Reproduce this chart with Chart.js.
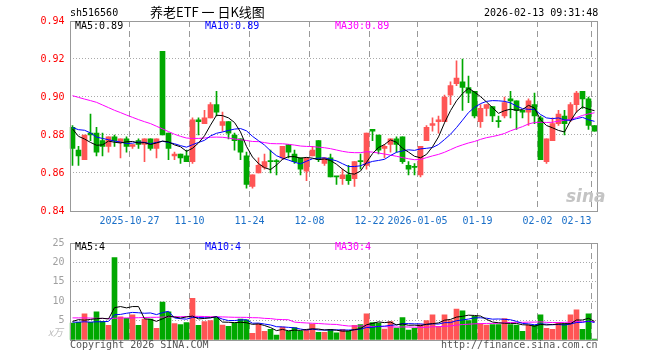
<!DOCTYPE html>
<html><head><meta charset="utf-8">
<script src="https://cdn.jsdelivr.net/npm/chart.js@4.4.1/dist/chart.umd.min.js"></script>
<style>
html,body{margin:0;padding:0;background:#fff;}
#wrap{position:relative;width:660px;height:360px;overflow:hidden;font-family:"DejaVu Sans Mono",monospace;font-size:10px;}
canvas{position:absolute;left:0;}
.t{position:absolute;white-space:pre;line-height:12px;}
</style></head><body>
<div id="wrap">
<canvas id="kc" width="660" height="231" style="top:0"></canvas>
<canvas id="vc" width="660" height="128" style="top:232px"></canvas>
<div class="t" style="left:70px;top:7px;color:#000">sh516560</div>
<div class="t" style="left:150px;top:4px;font-family:'Noto Sans CJK SC';font-size:13px;line-height:16px;color:#000">养老ETF 一 日K线图</div>
<div class="t" style="left:484px;top:7px;color:#000">2026-02-13 09:31:48</div>
<div class="t" id="m5" style="left:75px;top:20px;color:#000"></div>
<div class="t" id="m10" style="left:205px;top:20px;color:#0000ff"></div>
<div class="t" id="m30" style="left:335px;top:20px;color:#ff00ff"></div>
<div class="t" id="v5" style="left:75px;top:241px;color:#000"></div>
<div class="t" id="v10" style="left:205px;top:241px;color:#0000ff"></div>
<div class="t" id="v30" style="left:335px;top:241px;color:#ff00ff"></div>
<div class="t" style="left:48px;top:326px;color:#bbb;font-family:'Noto Sans CJK SC';font-style:italic;">x万</div>
<div class="t" style="left:70px;top:339px;color:#555">Copyright 2026 SINA.COM</div>
<div class="t" style="left:441px;top:339px;color:#555">http://finance.sina.com.cn</div>
<div class="t" style="left:566px;top:186px;color:#c4c4c4;font-family:'DejaVu Sans';font-style:italic;font-weight:bold;font-size:17px;line-height:20px">sina</div>
</div>
<script>
const dates = [
'2025-10-13','2025-10-14','2025-10-15','2025-10-16','2025-10-17','2025-10-20','2025-10-21','2025-10-22','2025-10-23','2025-10-24',
'2025-10-27','2025-10-28','2025-10-29','2025-10-30','2025-10-31','2025-11-03','2025-11-04','2025-11-05','2025-11-06','2025-11-07',
'2025-11-10','2025-11-11','2025-11-12','2025-11-13','2025-11-14','2025-11-17','2025-11-18','2025-11-19','2025-11-20','2025-11-21',
'2025-11-24','2025-11-25','2025-11-26','2025-11-27','2025-11-28','2025-12-01','2025-12-02','2025-12-03','2025-12-04','2025-12-05',
'2025-12-08','2025-12-09','2025-12-10','2025-12-11','2025-12-12','2025-12-15','2025-12-16','2025-12-17','2025-12-18','2025-12-19',
'2025-12-22','2025-12-23','2025-12-24','2025-12-25','2025-12-26','2025-12-29','2025-12-30','2025-12-31','2026-01-05','2026-01-06',
'2026-01-07','2026-01-08','2026-01-09','2026-01-12','2026-01-13','2026-01-14','2026-01-15','2026-01-16','2026-01-19','2026-01-20',
'2026-01-21','2026-01-22','2026-01-23','2026-01-26','2026-01-27','2026-01-28','2026-01-29','2026-01-30','2026-02-02','2026-02-03',
'2026-02-04','2026-02-05','2026-02-06','2026-02-09','2026-02-10','2026-02-11','2026-02-12','2026-02-13'];

const open = [0.884,0.872,0.867,0.881,0.881,0.877,0.874,0.879,0.876,0.878,
0.874,0.877,0.875,0.878,0.873,0.924,0.881,0.869,0.870,0.869,
0.866,0.888,0.886,0.889,0.896,0.885,0.887,0.880,0.878,0.869,
0.853,0.860,0.863,0.866,0.866,0.868,0.875,0.870,0.868,0.861,
0.869,0.877,0.865,0.868,0.858,0.857,0.859,0.857,0.866,0.864,
0.883,0.880,0.873,0.875,0.878,0.879,0.864,0.863,0.859,0.877,
0.885,0.887,0.887,0.901,0.907,0.908,0.905,0.903,0.887,0.894,
0.895,0.887,0.890,0.899,0.898,0.893,0.892,0.896,0.889,0.866,
0.877,0.886,0.890,0.888,0.896,0.903,0.899,0.885];

const high = [0.885,0.874,0.880,0.891,0.884,0.881,0.879,0.880,0.878,0.879,
0.875,0.878,0.878,0.878,0.878,0.924,0.881,0.871,0.870,0.872,
0.889,0.889,0.893,0.897,0.903,0.892,0.887,0.881,0.878,0.871,
0.859,0.868,0.870,0.872,0.867,0.874,0.875,0.872,0.868,0.868,
0.874,0.877,0.868,0.870,0.858,0.862,0.864,0.866,0.870,0.881,
0.883,0.880,0.875,0.878,0.879,0.879,0.866,0.865,0.874,0.885,
0.889,0.890,0.901,0.908,0.919,0.920,0.911,0.903,0.896,0.896,
0.895,0.890,0.900,0.903,0.898,0.893,0.899,0.902,0.890,0.878,
0.889,0.893,0.893,0.897,0.903,0.903,0.900,0.885];

const low = [0.864,0.864,0.867,0.877,0.869,0.869,0.871,0.874,0.868,0.871,
0.873,0.873,0.866,0.872,0.868,0.880,0.867,0.867,0.865,0.866,
0.865,0.880,0.886,0.889,0.890,0.882,0.878,0.872,0.867,0.852,
0.852,0.860,0.862,0.860,0.859,0.867,0.868,0.865,0.859,0.856,
0.869,0.866,0.864,0.858,0.854,0.854,0.854,0.853,0.862,0.862,
0.877,0.870,0.868,0.871,0.871,0.865,0.859,0.859,0.858,0.877,
0.882,0.881,0.887,0.896,0.906,0.893,0.897,0.889,0.884,0.890,
0.887,0.884,0.889,0.889,0.883,0.889,0.885,0.886,0.867,0.865,
0.877,0.885,0.880,0.887,0.892,0.894,0.883,0.882];

const close = [0.873,0.869,0.880,0.880,0.871,0.874,0.879,0.877,0.878,0.874,
0.875,0.875,0.878,0.873,0.878,0.880,0.873,0.870,0.868,0.866,
0.888,0.887,0.889,0.896,0.892,0.887,0.881,0.877,0.871,0.854,
0.859,0.864,0.866,0.866,0.866,0.874,0.871,0.866,0.862,0.868,
0.872,0.867,0.868,0.858,0.858,0.859,0.856,0.866,0.866,0.881,
0.882,0.872,0.874,0.878,0.875,0.866,0.862,0.863,0.874,0.884,
0.886,0.888,0.900,0.906,0.910,0.905,0.902,0.890,0.894,0.896,
0.890,0.887,0.897,0.898,0.893,0.892,0.898,0.890,0.867,0.878,
0.886,0.891,0.886,0.896,0.902,0.899,0.885,0.882];

const ma5 = [0.8832,0.8793,0.8779,0.8761,0.8746,0.8748,0.8768,0.8762,0.8758,0.8764,
0.8766,0.8758,0.8760,0.8750,0.8758,0.8768,0.8764,0.8748,0.8738,0.8714,
0.8730,0.8758,0.8796,0.8852,0.8904,0.8902,0.8890,0.8866,0.8816,0.8740,
0.8684,0.8650,0.8628,0.8618,0.8642,0.8672,0.8686,0.8686,0.8678,0.8682,
0.8678,0.8670,0.8674,0.8666,0.8646,0.8620,0.8598,0.8594,0.8610,0.8656,
0.8702,0.8734,0.8750,0.8774,0.8762,0.8730,0.8710,0.8688,0.8680,0.8698,
0.8738,0.8790,0.8864,0.8928,0.8980,0.9018,0.9046,0.9026,0.9002,0.8974,
0.8944,0.8914,0.8928,0.8936,0.8930,0.8934,0.8956,0.8942,0.8880,0.8850,
0.8838,0.8824,0.8816,0.8874,0.8922,0.8948,0.8936,0.8928];

const ma10 = [0.8839,0.8828,0.8825,0.8811,0.8789,0.8782,0.8775,0.8768,0.8763,0.8755,
0.8757,0.8763,0.8761,0.8754,0.8761,0.8767,0.8761,0.8754,0.8744,0.8736,
0.8749,0.8761,0.8772,0.8795,0.8809,0.8816,0.8824,0.8831,0.8834,0.8822,
0.8793,0.8770,0.8747,0.8717,0.8691,0.8678,0.8668,0.8657,0.8648,0.8662,
0.8675,0.8678,0.8680,0.8672,0.8664,0.8649,0.8634,0.8634,0.8638,0.8651,
0.8661,0.8666,0.8672,0.8692,0.8709,0.8716,0.8722,0.8719,0.8727,0.8730,
0.8734,0.8750,0.8776,0.8804,0.8839,0.8878,0.8918,0.8945,0.8965,0.8977,
0.8981,0.8980,0.8977,0.8969,0.8952,0.8939,0.8935,0.8935,0.8908,0.8890,
0.8886,0.8890,0.8879,0.8877,0.8886,0.8893,0.8880,0.8872];

const ma30 = [0.9007,0.8998,0.8989,0.8981,0.8972,0.8958,0.8944,0.8930,0.8918,0.8905,
0.8893,0.8881,0.8870,0.8860,0.8846,0.8832,0.8818,0.8804,0.8793,0.8784,
0.8782,0.8782,0.8784,0.8788,0.8789,0.8788,0.8784,0.8779,0.8775,0.8771,
0.8766,0.8765,0.8760,0.8755,0.8754,0.8754,0.8751,0.8747,0.8742,0.8740,
0.8739,0.8736,0.8733,0.8728,0.8721,0.8714,0.8709,0.8707,0.8707,0.8712,
0.8710,0.8705,0.8700,0.8694,0.8688,0.8681,0.8675,0.8670,0.8671,0.8681,
0.8690,0.8698,0.8709,0.8723,0.8737,0.8748,0.8758,0.8766,0.8777,0.8786,
0.8792,0.8799,0.8808,0.8822,0.8833,0.8844,0.8858,0.8866,0.8867,0.8866,
0.8867,0.8873,0.8877,0.8883,0.8892,0.8903,0.8911,0.8917];

const volume = [4.33,4.58,6.75,4.58,7.25,4.83,3.75,21.25,6.0,5.58,
6.5,3.75,5.4,5.4,3.0,9.75,7.25,4.25,4.0,4.5,
10.75,3.75,4.75,5.0,5.75,3.83,3.5,4.33,5.4,5.17,
1.75,4.08,2.25,2.75,1.25,3.33,2.25,3.17,2.33,2.5,
4.08,2.0,2.0,2.75,1.83,2.75,2.33,3.75,4.0,6.75,
4.5,4.33,2.83,4.75,3.08,5.75,2.58,3.0,4.0,5.0,
6.5,3.5,6.5,5.0,8.0,7.5,5.0,6.08,4.25,3.83,
4.0,4.0,5.5,4.0,3.83,2.25,3.83,3.75,6.5,3.0,
2.75,4.5,4.25,6.5,7.75,2.75,6.75,0.25];

const vma5 = [4.8,5.25,5.1,5.3,5.50,5.60,5.43,8.33,8.62,8.28,
8.62,8.62,5.45,5.33,4.81,5.46,6.16,5.93,5.65,5.95,
6.15,5.45,5.55,5.75,6.0,4.62,4.57,4.48,4.56,4.45,
4.03,4.15,3.73,3.2,2.42,2.73,2.37,2.55,2.47,2.72,
2.87,2.82,2.58,2.67,2.53,2.27,2.33,2.68,2.93,3.92,
4.27,4.67,4.48,4.63,3.9,4.15,3.8,3.83,3.68,4.07,
4.22,4.4,5.1,5.3,5.9,6.1,6.4,6.32,6.17,5.33,
4.63,4.43,4.32,4.27,4.27,3.92,3.88,3.53,4.03,3.87,
3.97,4.1,4.2,4.2,5.15,5.15,5.6,4.8];

const vma10 = [4.6,4.6,4.7,4.6,4.7,4.7,4.8,6.5,6.6,6.89,
7.11,7.02,6.89,6.97,6.55,7.04,7.39,5.69,5.49,5.38,
5.81,5.81,5.74,5.70,5.98,5.38,5.01,5.02,5.16,5.22,
4.32,4.36,4.11,3.88,3.43,3.38,3.26,3.14,2.83,2.57,
2.80,2.59,2.57,2.57,2.62,2.57,2.57,2.63,2.80,3.22,
3.27,3.50,3.58,3.78,3.91,4.21,4.23,4.16,4.16,3.98,
4.18,4.10,4.47,4.49,4.98,5.16,5.40,5.71,5.73,5.62,
5.37,5.42,5.32,5.22,4.80,4.27,4.16,3.92,4.15,4.07,
3.94,3.99,3.87,4.12,4.51,4.56,4.85,4.50];

const vma30 = [5.7,5.7,5.7,5.65,5.6,5.55,5.5,5.6,5.65,5.7,
5.7,5.75,5.8,5.85,5.85,5.9,5.95,6.0,6.0,6.05,
6.1,6.1,6.05,6.0,6.0,5.95,5.9,5.85,5.85,5.83,
5.75,5.73,5.58,5.52,5.32,5.27,5.22,4.61,4.49,4.39,
4.31,4.25,4.14,4.05,4.01,3.78,3.61,3.60,3.60,3.67,
3.46,3.48,3.42,3.41,3.32,3.38,3.35,3.31,3.26,3.26,
3.42,3.40,3.54,3.61,3.84,3.98,4.07,4.17,4.23,4.27,
4.27,4.34,4.45,4.50,4.56,4.55,4.60,4.60,4.68,4.55,
4.50,4.50,4.55,4.61,4.76,4.66,4.80,4.71];

const tickIdx = [10,20,30,40,50,58,68,78,87];
const tickText = ['2025-10-27','11-10','11-24','12-08','12-22','2026-01-05','01-19','02-02','02-13     '];
const priceTicks = [0.84,0.86,0.88,0.90,0.92,0.94];
const volTicks = [0,5,10,15,20,25];

const RED = '#ff5555', GREEN = '#00a800';
const colors = close.map((c,i) => c > open[i] ? RED : GREEN);
const L = dates.length - 1;

document.getElementById('m5').textContent = 'MA5:' + ma5[L].toFixed(2);
document.getElementById('m10').textContent = 'MA10:' + ma10[L].toFixed(2);
document.getElementById('m30').textContent = 'MA30:' + ma30[L].toFixed(2);
document.getElementById('v5').textContent = 'MA5:' + Math.floor(vma5[L]);
document.getElementById('v10').textContent = 'MA10:' + Math.floor(vma10[L]);
document.getElementById('v30').textContent = 'MA30:' + Math.floor(vma30[L]);

const frame = {
  id: 'frame',
  afterDraw(c) {
    const a = c.chartArea, x = c.ctx;
    x.save();
    x.strokeStyle = '#999'; x.lineWidth = 1;
    const l = Math.ceil(a.left) + 0.5, r = Math.floor(a.right) + 0.5;
    const t = Math.floor(a.top) + 0.5, b = Math.floor(a.bottom) + 0.5;
    x.strokeRect(l, t, r - l, b - t);
    x.restore();
  }
};

const mono = {family: 'DejaVu Sans Mono', size: 10};
const xGridColor = ctx => tickIdx.includes(ctx.index) ? '#999999' : 'rgba(0,0,0,0)';

function lineDs(label, data, color) {
  return {type: 'line', label, data, borderColor: color, borderWidth: 1, pointRadius: 0, tension: 0, order: 0};
}

function xScale(showLabels) {
  return {
    offset: true,
    grid: {offset: true, drawTicks: false, color: xGridColor, lineWidth: 1},
    border: {display: false, dash: [6, 4]},
    ticks: {
      display: showLabels, autoSkip: false, maxRotation: 0, minRotation: 0, padding: 4,
      labelOffset: -3, color: '#1a6fc8', font: mono,
      callback: (v, i) => { const k = tickIdx.indexOf(i); return k >= 0 ? tickText[k] : ''; }
    },
    afterFit: a => { a.height = 20; }
  };
}

new Chart(document.getElementById('kc'), {
  type: 'bar',
  data: {
    labels: dates,
    datasets: [
      lineDs('MA5', ma5, '#000000'),
      lineDs('MA10', ma10, '#0000ff'),
      lineDs('MA30', ma30, '#ff00ff'),
      {label: 'body', data: dates.map((d, i) => [open[i], close[i]]), backgroundColor: colors,
       barThickness: 5, grouped: false, minBarLength: 1, order: 1},
      {label: 'wick', data: dates.map((d, i) => [low[i], high[i]]), backgroundColor: colors,
       barThickness: 1, grouped: false, minBarLength: 1, order: 2}
    ]
  },
  options: {
    responsive: false, animation: false, events: [],
    layout: {padding: {left: 0, right: 62.5, top: 21, bottom: 0}},
    plugins: {legend: {display: false}, tooltip: {enabled: false}},
    scales: {
      x: xScale(true),
      y: {
        min: 0.84, max: 0.94,
        afterBuildTicks: a => { a.ticks = priceTicks.map(v => ({value: v})); },
        grid: {drawTicks: false, lineWidth: 1,
               color: ctx => (ctx.tick && (Math.abs(ctx.tick.value - 0.84) < 1e-6 || Math.abs(ctx.tick.value - 0.94) < 1e-6)) ? 'rgba(0,0,0,0)' : '#aaaaaa'},
        border: {display: false, dash: [1, 2]},
        ticks: {padding: 5, color: '#ff0000', font: mono, callback: v => Number(v).toFixed(2)},
        afterFit: a => { a.width = 69.5; }
      }
    }
  },
  plugins: [frame]
});

new Chart(document.getElementById('vc'), {
  type: 'bar',
  data: {
    labels: dates,
    datasets: [
      lineDs('VMA5', vma5, '#000000'),
      lineDs('VMA10', vma10, '#0000ff'),
      lineDs('VMA30', vma30, '#ff00ff'),
      {label: 'vol', data: volume, backgroundColor: colors, barThickness: 5, grouped: false, order: 1}
    ]
  },
  options: {
    responsive: false, animation: false, events: [],
    layout: {padding: {left: 0, right: 62.5, top: 8, bottom: 0}},
    plugins: {legend: {display: false}, tooltip: {enabled: false}},
    scales: {
      x: xScale(false),
      y: {
        min: 0, max: 25,
        afterBuildTicks: a => { a.ticks = volTicks.map(v => ({value: v})); },
        grid: {drawTicks: false, lineWidth: 1,
               color: ctx => (ctx.tick && (ctx.tick.value === 0 || ctx.tick.value === 25)) ? 'rgba(0,0,0,0)' : '#aaaaaa'},
        border: {display: false, dash: [1, 2]},
        ticks: {padding: 5, color: '#a0a0a0', font: mono, callback: v => v === 0 ? '' : String(v)},
        afterFit: a => { a.width = 69.5; }
      }
    }
  },
  plugins: [frame]
});
</script>
</body></html>
